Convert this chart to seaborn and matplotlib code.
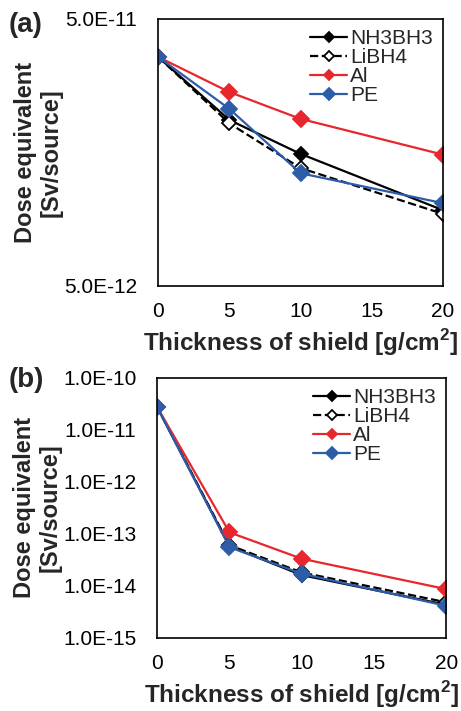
import numpy as np
import pandas as pd
import matplotlib
matplotlib.use("Agg")
import matplotlib.pyplot as plt
import matplotlib.ticker as mticker
import seaborn as sns

# thickness of shield [g/cm2]
thickness = [0, 5, 10, 20]
materials = ["NH3BH3", "LiBH4", "Al", "PE"]

# panel (a) dose equivalent [Sv/source]
dose_a_nh3bh3 = [3.6e-11, 2.09e-11, 1.56e-11, 9.6e-12]
dose_a_libh4 = [3.6e-11, 2.03e-11, 1.38e-11, 9.3e-12]
dose_a_al = [3.6e-11, 2.66e-11, 2.11e-11, 1.55e-11]
dose_a_pe = [3.6e-11, 2.30e-11, 1.32e-11, 1.02e-11]

# panel (b) dose equivalent [Sv/source]
dose_b_nh3bh3 = [2.7e-11, 5.7e-14, 1.6e-14, 4.3e-15]
dose_b_libh4 = [2.7e-11, 6.0e-14, 1.8e-14, 4.8e-15]
dose_b_al = [2.7e-11, 1.06e-13, 3.3e-14, 8.6e-15]
dose_b_pe = [2.7e-11, 5.5e-14, 1.7e-14, 4.1e-15]

yticks_a = [5e-12, 5e-11]
yticks_b = [1e-15, 1e-14, 1e-13, 1e-12, 1e-11, 1e-10]

sns.set_style("white")
plt.rcParams["font.family"] = ["Liberation Sans", "DejaVu Sans"]

styles = {
    "NH3BH3": dict(color="black", ls="-", mfc="black", ms=7),
    "LiBH4": dict(color="black", ls="--", mfc="white", ms=7),
    "Al": dict(color="#E8262D", ls="-", mfc="#E8262D", ms=8),
    "PE": dict(color="#2D5DA8", ls="-", mfc="#2D5DA8", ms=8.5),
}


def draw_panel(ax, series, yticks, ylim):
    df = pd.DataFrame({"thickness": thickness * 4,
                       "dose": sum(series, []),
                       "material": np.repeat(materials, len(thickness))})
    for m in materials:
        st = styles[m]
        sns.lineplot(data=df[df.material == m], x="thickness", y="dose", ax=ax,
                     color=st["color"], linestyle=st["ls"], lw=1.6,
                     marker="D", ms=st["ms"], mfc=st["mfc"], mec=st["color"],
                     mew=1.3, label=m)
    ax.set_yscale("log")
    ax.set_ylim(*ylim)
    ax.set_xlim(0, 20)
    ax.set_xticks([0, 5, 10, 15, 20])
    ax.set_yticks(yticks)
    ax.yaxis.set_minor_locator(mticker.NullLocator())
    ax.yaxis.set_major_formatter(mticker.FuncFormatter(
        lambda v, p: ("%.1E" % v).replace("E-0", "E-").replace("E+0", "E+")))
    ax.tick_params(axis="both", direction="in", length=4, width=1,
                   labelsize=15, colors="black")
    ax.tick_params(axis="x", pad=12)
    ax.tick_params(axis="y", pad=15)
    for sp in ax.spines.values():
        sp.set_color("black")
        sp.set_linewidth(1.2)
    ax.set_xlabel("Thickness of shield [g/cm$^\\mathregular{2}$]",
                  fontsize=17.5, fontweight="bold", labelpad=4)
    ax.set_ylabel("Dose equivalent\n[Sv/source]", fontsize=17,
                  fontweight="bold", labelpad=1, linespacing=1.15)
    ax.legend(loc="upper right", frameon=False, fontsize=15,
              handlelength=1.75, handletextpad=0.15, labelspacing=0.0,
              borderaxespad=0.1, markerscale=0.7)


fig = plt.figure(figsize=(4.61, 7.11), dpi=100)
ax_a = fig.add_axes([0.343, 0.598, 0.618, 0.3755])
ax_b = fig.add_axes([0.341, 0.103, 0.627, 0.366])

draw_panel(ax_a, [dose_a_nh3bh3, dose_a_libh4, dose_a_al, dose_a_pe],
           yticks_a, (5e-12, 5e-11))
draw_panel(ax_b, [dose_b_nh3bh3, dose_b_libh4, dose_b_al, dose_b_pe],
           yticks_b, (1e-15, 1e-10))

fig.text(0.018, 0.965, "(a)", fontsize=20, fontweight="bold", va="center")
fig.text(0.018, 0.466, "(b)", fontsize=20, fontweight="bold", va="center")

fig.savefig("out.png", dpi=100)
